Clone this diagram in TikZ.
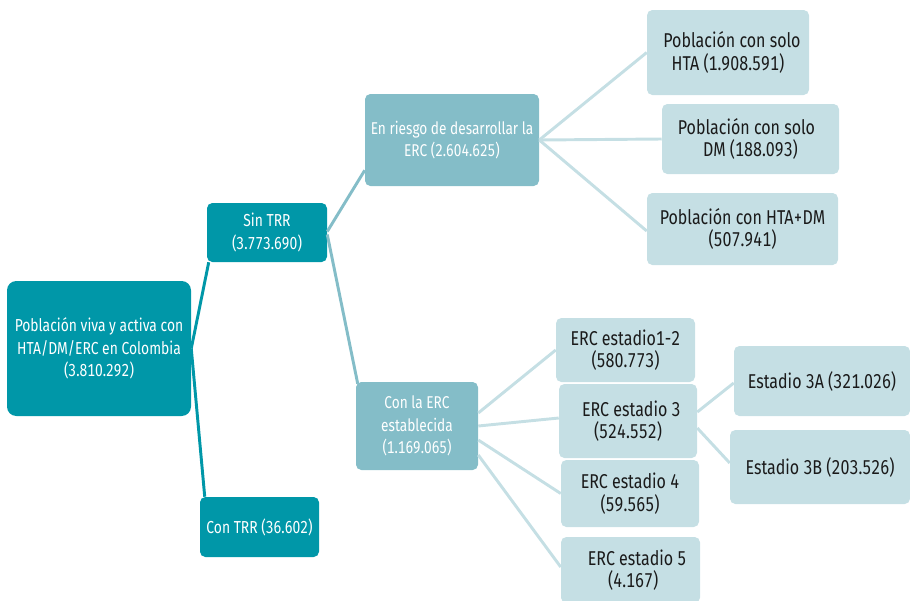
\documentclass[tikz,border=0pt]{standalone}
\usepackage{fontspec}
\setmainfont[FakeStretch=0.8,Numbers=Monospaced]{Fira Sans}
\usetikzlibrary{calc}
\definecolor{darkteal}{HTML}{0097A8}
\definecolor{midteal}{HTML}{84BDC8}
\definecolor{lightteal}{HTML}{C5DFE4}
\definecolor{leaftext}{HTML}{1A1A1A}
\begin{document}
\begin{tikzpicture}[x=0.75pt,y=-0.75pt,
  box/.style={rounded corners=4pt, align=center, inner sep=0pt},
  darkbox/.style={box, fill=darkteal, text=white, font=\fontsize{13}{17}\selectfont},
  midbox/.style={box, fill=midteal, text=white, font=\fontsize{12.8}{17}\selectfont},
  leafbox/.style={box, fill=lightteal, text=leaftext, font=\fontsize{15}{17}\selectfont},
  darkline/.style={draw=darkteal, line width=2.2pt},
  midline/.style={draw=midteal, line width=2.2pt},
  lightline/.style={draw=lightteal, line width=2.2pt}]
\useasboundingbox (0,0) rectangle (910,600);
\clip (0,0) rectangle (910,600);
% level 0-1
\node[darkbox, rounded corners=7pt, minimum width=138pt, minimum height=101.25pt] (root) at (99,348.5)
  {Población viva y activa con\\HTA/DM/ERC en Colombia\\(3.810.292)};
\node[darkbox, minimum width=90pt, minimum height=44.25pt] (sin) at (267,232.5) {Sin TRR\\(3.773.690)};
\node[darkbox, minimum width=89.25pt, minimum height=45pt] (con) at (259.5,527) {Con TRR (36.602)};
% level 2
\node[midbox, minimum width=130.5pt, minimum height=69pt] (riesgo) at (452,140)
  {En riesgo de desarrollar la\\ERC (2.604.625)};
\node[midbox, minimum width=91.5pt, minimum height=66pt] (est) at (417,426)
  {Con la ERC\\establecida\\(1.169.065)};
% level 3
\node[leafbox, minimum width=121.5pt, minimum height=63.75pt] (hta) at (728,52.5)
  {\hspace*{6pt}Población con solo\\HTA (1.908.591)};
\node[leafbox, minimum width=132.75pt, minimum height=52.5pt] (dm) at (750.5,139)
  {Población con solo\hspace*{6pt}\\DM (188.093)};
\node[leafbox, minimum width=143.25pt, minimum height=54pt] (htadm) at (742.5,229)
  {Población con HTA+DM\\(507.941)};
\node[leafbox, minimum width=104.25pt, minimum height=48pt] (e12) at (625.5,350)
  {ERC estadio1-2\\(580.773)};
\node[leafbox, minimum width=103.5pt, minimum height=55.5pt] (e3) at (628,421)
  {\hspace*{5pt}ERC estadio 3\\(524.552)};
\node[leafbox, minimum width=103.5pt, minimum height=50.25pt] (e4) at (630,493.5)
  {ERC estadio 4\\(59.565)};
\node[leafbox, minimum width=104.25pt, minimum height=49.5pt] (e5) at (630.5,570)
  {\hspace*{10pt}ERC estadio 5\\\hspace*{4pt}(4.167)};
% level 4
\node[leafbox, minimum width=132pt, minimum height=52.5pt] (e3a) at (822,381)
  {Estadio 3A (321.026)};
\node[leafbox, minimum width=135pt, minimum height=55.5pt] (e3b) at (820,467)
  {Estadio 3B (203.526)};
% connectors
\draw[darkline] (root.east) -- ($(sin.south west)+(2,0)$);
\draw[darkline] (root.east) -- ($(con.north west)+(5,0)$);
\draw[midline] ($(sin.east)+(0,-1)$) -- ($(riesgo.south west)+(0,-16)$);
\draw[midline] ($(sin.east)+(0,2)$) -- ($(est.north west)+(2,2)$);
\draw[lightline] (riesgo.east) -- (hta.west);
\draw[lightline] (riesgo.east) -- (dm.west);
\draw[lightline] (riesgo.east) -- ($(htadm.west)+(0,2)$);
\draw[lightline] ($(est.east)+(0,-13)$) -- (e12.west);
\draw[lightline] (est.east) -- ($(e3.west)+(0,-3)$);
\draw[lightline] ($(est.east)+(0,14)$) -- (e4.west);
\draw[lightline] ($(est.east)+(0,29)$) -- ($(e5.west)+(0,-3)$);
\draw[lightline] ($(e3.east)+(0,-9)$) -- ($(e3a.west)+(0,2)$);
\draw[lightline] ($(e3.east)+(0,7)$) -- ($(e3b.west)+(0,-4)$);
\end{tikzpicture}
\end{document}
